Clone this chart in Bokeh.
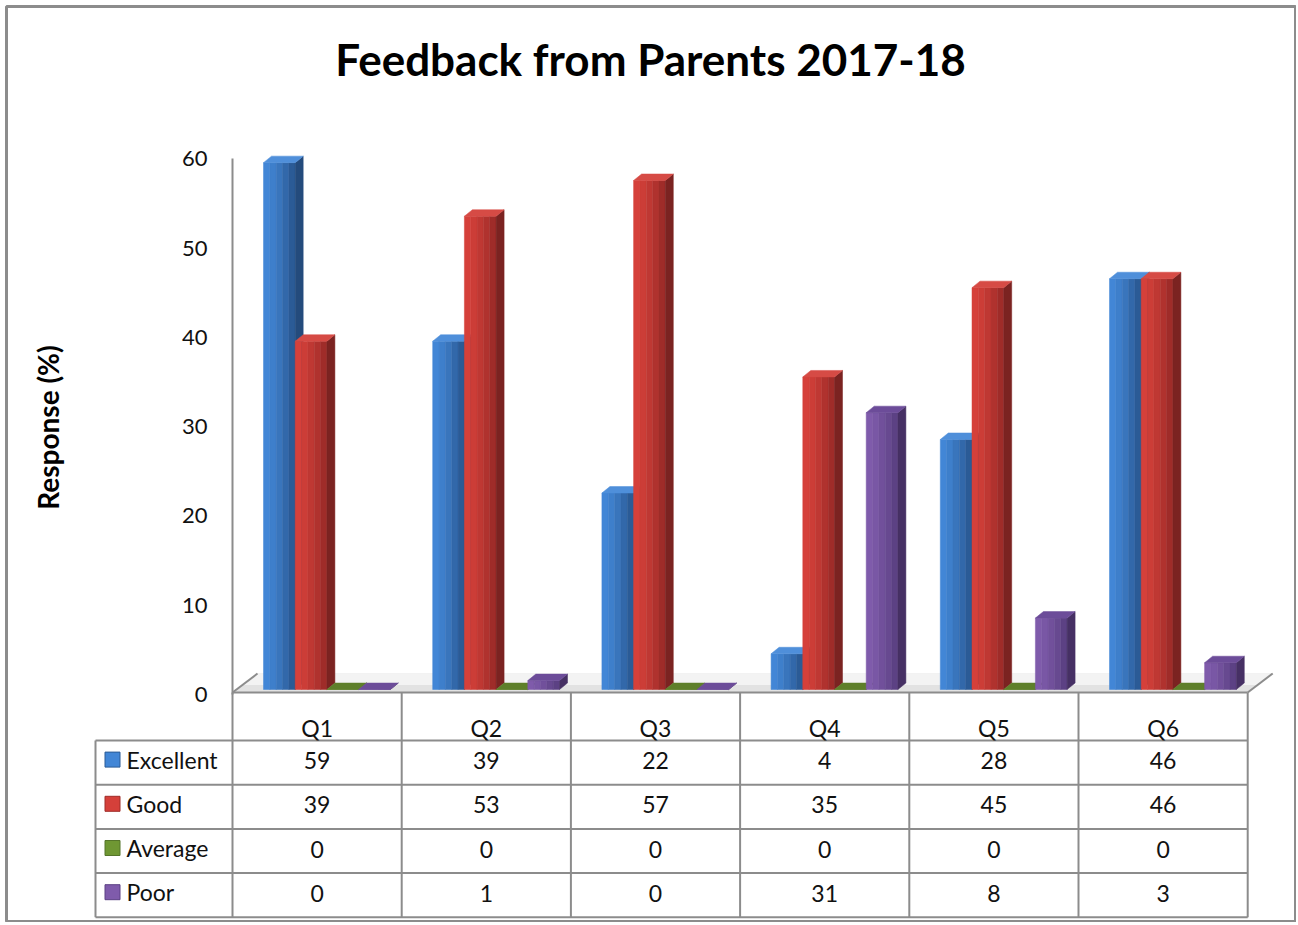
import numpy as np
from bokeh.plotting import figure
from bokeh.models import Range1d, LinearAxis, FixedTicker, Label
from bokeh.core.properties import value
from bokeh.embed import file_html
from bokeh.resources import INLINE

# ---------------- data ----------------
title_text = "Feedback from Parents 2017-18"
y_label = "Response (%)"
categories = ["Q1", "Q2", "Q3", "Q4", "Q5", "Q6"]
series_names = ["Excellent", "Good", "Average", "Poor"]
excellent = [59, 39, 22, 4, 28, 46]
good = [39, 53, 57, 35, 45, 46]
average = [0, 0, 0, 0, 0, 0]
poor = [0, 1, 0, 31, 8, 3]
y_ticks = [0, 10, 20, 30, 40, 50, 60]

series_values = [excellent, good, average, poor]

# ---------------- style ----------------
front_light = ["#4286d6", "#d5403a", "#6f9733", "#7f5bab"]
front_dark = ["#2b5b96", "#9f2c29", "#55752a", "#5c4184"]
side_cols = ["#244b7c", "#7b2321", "#3e581d", "#463064"]
top_cols = ["#4f8fda", "#d64b45", "#5e7f2a", "#6c4c99"]
grid_col = "#8c8c8c"
FONT = "Lato"

W, H = 1296, 922
FRAME_L, FRAME_T, FRAME_R, FRAME_B = 6, 6, 1295, 922
PX_X = 169.2          # pixels per category
PX_Y = 8.93           # pixels per percent
ORIG_X, ORIG_Y = 232, 689   # canvas pixel of (0, 0)

x_range = Range1d(-(ORIG_X - FRAME_L) / PX_X, (FRAME_R - ORIG_X) / PX_X)
y_range = Range1d(-(FRAME_B - ORIG_Y) / PX_Y, (ORIG_Y - FRAME_T) / PX_Y)

p = figure(width=W, height=H, x_range=x_range, y_range=y_range,
           x_axis_type=None, y_axis_type=None, toolbar_location=None,
           output_backend="svg", title=None,
           min_border_left=FRAME_L, min_border_top=FRAME_T,
           min_border_right=W - FRAME_R, min_border_bottom=H - FRAME_B)
p.grid.visible = False
p.outline_line_color = "#8c8c8c"
p.outline_line_width = 3
p.background_fill_color = "white"
p.border_fill_color = "white"

# y axis inside the frame at x = 0
AX_SHIFT = 5
p.extra_y_ranges = {"ax": Range1d(-(FRAME_B - ORIG_Y - AX_SHIFT) / PX_Y,
                                  (ORIG_Y + AX_SHIFT - FRAME_T) / PX_Y)}
yax = LinearAxis(y_range_name="ax", fixed_location=0, bounds=(0, 60),
                 ticker=FixedTicker(ticks=y_ticks))
yax.axis_line_color = grid_col
yax.axis_line_width = 2
yax.major_tick_line_color = None
yax.minor_tick_line_color = None
yax.major_tick_out = 0
yax.major_tick_in = 0
yax.major_label_standoff = 25
yax.major_label_text_font = FONT
yax.major_label_text_font_size = "22px"
yax.major_label_text_color = "#111111"
p.add_layout(yax, "left")

# ---------------- floor ----------------
n_cat = len(categories)
FLOOR_FRONT = -3 / PX_Y
FLOOR_BACK = 16 / PX_Y
FLOOR_DX = 25 / PX_X
p.patch([0, n_cat, n_cat + FLOOR_DX, FLOOR_DX],
        [FLOOR_FRONT, FLOOR_FRONT, FLOOR_BACK, FLOOR_BACK],
        fill_color="#e2e2e2", line_color=None)
p.patch([0.4 * FLOOR_DX, n_cat + 0.4 * FLOOR_DX, n_cat + FLOOR_DX, FLOOR_DX],
        [FLOOR_FRONT + 0.4 * (FLOOR_BACK - FLOOR_FRONT)] * 2 + [FLOOR_BACK, FLOOR_BACK],
        fill_color="#f3f3f3", line_color=None)
p.segment(x0=[0, n_cat], y0=[FLOOR_FRONT, FLOOR_FRONT],
          x1=[FLOOR_DX, n_cat + FLOOR_DX], y1=[FLOOR_BACK, FLOOR_BACK],
          line_color=grid_col, line_width=2)

# ---------------- 3D bars ----------------
BW = 31.7 / PX_X
GROUP_OFF = 31.0 / PX_X
DX = 8.0 / PX_X
DY = 6.5 / PX_Y
NSTRIP = 5


def mix(c1, c2, t):
    a = [int(c1[i:i + 2], 16) for i in (1, 3, 5)]
    b = [int(c2[i:i + 2], 16) for i in (1, 3, 5)]
    return "#%02x%02x%02x" % tuple(int(round(a[k] + (b[k] - a[k]) * t)) for k in range(3))


for s, vals in enumerate(series_values):
    lefts, rights, tops, cols = [], [], [], []
    side_xs, side_ys, top_xs, top_ys = [], [], [], []
    for i, v in enumerate(vals):
        x0 = i + GROUP_OFF + s * BW
        x1 = x0 + BW
        for k in range(NSTRIP):
            lefts.append(x0 + k * BW / NSTRIP)
            rights.append(x0 + (k + 1) * BW / NSTRIP)
            tops.append(v)
            cols.append(mix(front_light[s], front_dark[s], (k / (NSTRIP - 1)) ** 1.3))
        side_xs.append([x1, x1 + DX, x1 + DX, x1])
        side_ys.append([0, DY, v + DY, v])
        top_xs.append([x0, x1, x1 + DX, x0 + DX])
        top_ys.append([v, v, v + DY, v + DY])
    p.quad(left=lefts, right=rights, bottom=0, top=tops,
           fill_color=cols, line_color=cols, line_width=0.5)
    p.patches(side_xs, side_ys, fill_color=side_cols[s], line_color=side_cols[s], line_width=0.5)
    p.patches(top_xs, top_ys, fill_color=top_cols[s], line_color=top_cols[s], line_width=0.5)

# ---------------- data table ----------------
TABLE_TOP = FLOOR_FRONT
HEADER_BOTTOM = -(740 - ORIG_Y) / PX_Y
ROW_H = 44.2 / PX_Y
LABEL_COL = -137 / PX_X
n_rows = len(series_names)
row_bottoms = [HEADER_BOTTOM - (k + 1) * ROW_H for k in range(n_rows)]
table_bottom = row_bottoms[-1]

# horizontal lines
hx0 = [0] + [LABEL_COL] * (n_rows + 1)
hy = [TABLE_TOP, HEADER_BOTTOM] + row_bottoms
hx1 = [n_cat] * (n_rows + 2)
p.segment(x0=hx0, y0=hy, x1=hx1, y1=hy, line_color=grid_col, line_width=2)
# vertical lines
vx = list(range(n_cat + 1)) + [LABEL_COL]
vy0 = [TABLE_TOP] * (n_cat + 1) + [HEADER_BOTTOM]
vy1 = [table_bottom] * (n_cat + 2)
p.segment(x0=vx, y0=vy0, x1=vx, y1=vy1, line_color=grid_col, line_width=2)

TABLE_FONT = "23px"
# header texts
p.text(x=[i + 0.5 for i in range(n_cat)], y=[HEADER_BOTTOM + 13 / PX_Y] * n_cat,
       text=categories, text_align="center", text_baseline="middle",
       text_font=value(FONT), text_font_size=TABLE_FONT, text_color="#111111")

# values
tx, ty, tt = [], [], []
for s, vals in enumerate(series_values):
    yc = HEADER_BOTTOM - (s + 0.5) * ROW_H + 2 / PX_Y
    for i, v in enumerate(vals):
        tx.append(i + 0.5)
        ty.append(yc)
        tt.append(str(v))
p.text(x=tx, y=ty, text=tt, text_align="center", text_baseline="middle",
       text_font=value(FONT), text_font_size=TABLE_FONT, text_color="#111111")

# row labels with legend keys
row_y = [HEADER_BOTTOM - (s + 0.5) * ROW_H + 3 / PX_Y for s in range(n_rows)]
p.scatter(x=[-120 / PX_X] * n_rows, y=row_y, marker="square", size=15,
          fill_color=front_light, line_color=front_dark, line_width=1)
p.text(x=[-106 / PX_X] * n_rows, y=row_y, text=series_names,
       text_align="left", text_baseline="middle",
       text_font=value(FONT), text_font_size=TABLE_FONT, text_color="#111111")

# ---------------- title & axis label ----------------
p.add_layout(Label(x=(650 - ORIG_X) / PX_X, y=(ORIG_Y - 58) / PX_Y,
                   text=title_text, text_align="center", text_baseline="middle",
                   text_font=FONT, text_font_style="bold", text_font_size="44px",
                   text_color="#000000"))
p.add_layout(Label(x=(47 - ORIG_X) / PX_X, y=(ORIG_Y - 427) / PX_Y,
                   text=y_label, angle=np.pi / 2, text_align="center",
                   text_baseline="middle", text_font=FONT, text_font_style="bold",
                   text_font_size="28px", text_color="#000000"))

open("out.html", "w").write(file_html(p, INLINE))
